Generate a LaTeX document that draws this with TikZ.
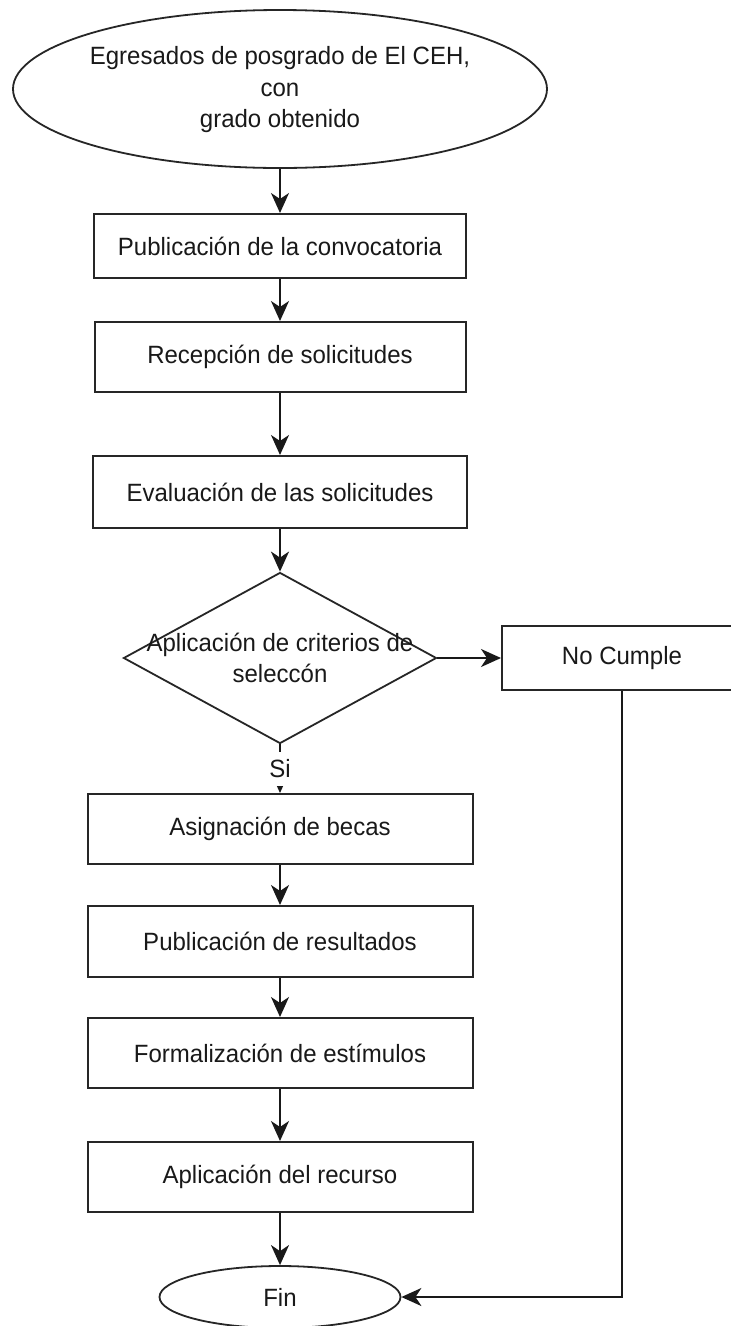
\documentclass[tikz,border=0pt]{standalone}
\usepackage{fontspec}
\setmainfont{Liberation Sans}[FakeStretch=0.96]
\usetikzlibrary{shapes.geometric,arrows.meta}
\begin{document}
\begin{tikzpicture}[x=1pt,y=-1pt,
  every node/.style={font=\fontsize{25}{31.5}\selectfont, text=black!90},
  procbox/.style={draw=black!85, line width=2pt, rectangle, minimum width=385pt, minimum height=70pt, inner sep=0pt, align=center},
  termshape/.style={draw=black!85, ellipse, line width=1.8pt, inner sep=0pt},
  decshape/.style={draw=black!85, diamond, line width=1.8pt, inner sep=0pt},
  arr/.style={-{Stealth[length=20pt,width=18pt,inset=6pt]}, draw=black!90, line width=2pt},
  lbl/.style={fill=white, inner sep=0pt, minimum height=34pt}]
\useasboundingbox (0,0) rectangle (731,1326);
\clip (0,0) rectangle (731,1326);
\fill[white] (0,0) rectangle (731,1326);

\node[termshape, minimum width=534pt, minimum height=158pt] (s) at (280,89) {};
\node[align=center] (st) at (280,90) {Egresados de posgrado de El CEH,\\con\\grado obtenido};
\node[procbox, minimum width=372pt, minimum height=64pt] (b1) at (280,246) {Publicación de la convocatoria};
\node[procbox, minimum width=371pt] (b2) at (280,357) {Recepción de solicitudes};
\node[procbox, minimum width=374pt, minimum height=72pt] (b3) at (280,492) {Evaluación de las solicitudes};
\node[decshape, minimum width=313pt, minimum height=171pt] (d) at (280,658) {};
\node[align=center] (dt) at (280,658) {Aplicación de criterios de\\seleccón};
\node[procbox, minimum width=240pt, minimum height=64pt] (nc) at (622,658) {No Cumple};
\node[procbox] (b4) at (280,829) {Asignación de becas};
\node[procbox, minimum height=71pt] (b5) at (280,941.5) {Publicación de resultados};
\node[procbox] (b6) at (280,1053) {Formalización de estímulos};
\node[procbox] (b7) at (280,1177) {Aplicación del recurso};
\node[termshape, minimum width=241pt, minimum height=62pt] (fin) at (280,1297) {Fin};

\draw[arr] (s.south) -- (b1.north);
\draw[arr] (b1.south) -- (b2.north);
\draw[arr] (b2.south) -- (b3.north);
\draw[arr] (b3.south) -- (d.north);
\draw[arr] (d.east) -- (nc.west);
\draw[arr] (d.south) -- node[lbl] (si) {Si} (b4.north);
\draw[arr] (b4.south) -- (b5.north);
\draw[arr] (b5.south) -- (b6.north);
\draw[arr] (b6.south) -- (b7.north);
\draw[arr] (b7.south) -- (fin.north);
\draw[arr] (nc.south) |- (fin.east);
\end{tikzpicture}
\end{document}
